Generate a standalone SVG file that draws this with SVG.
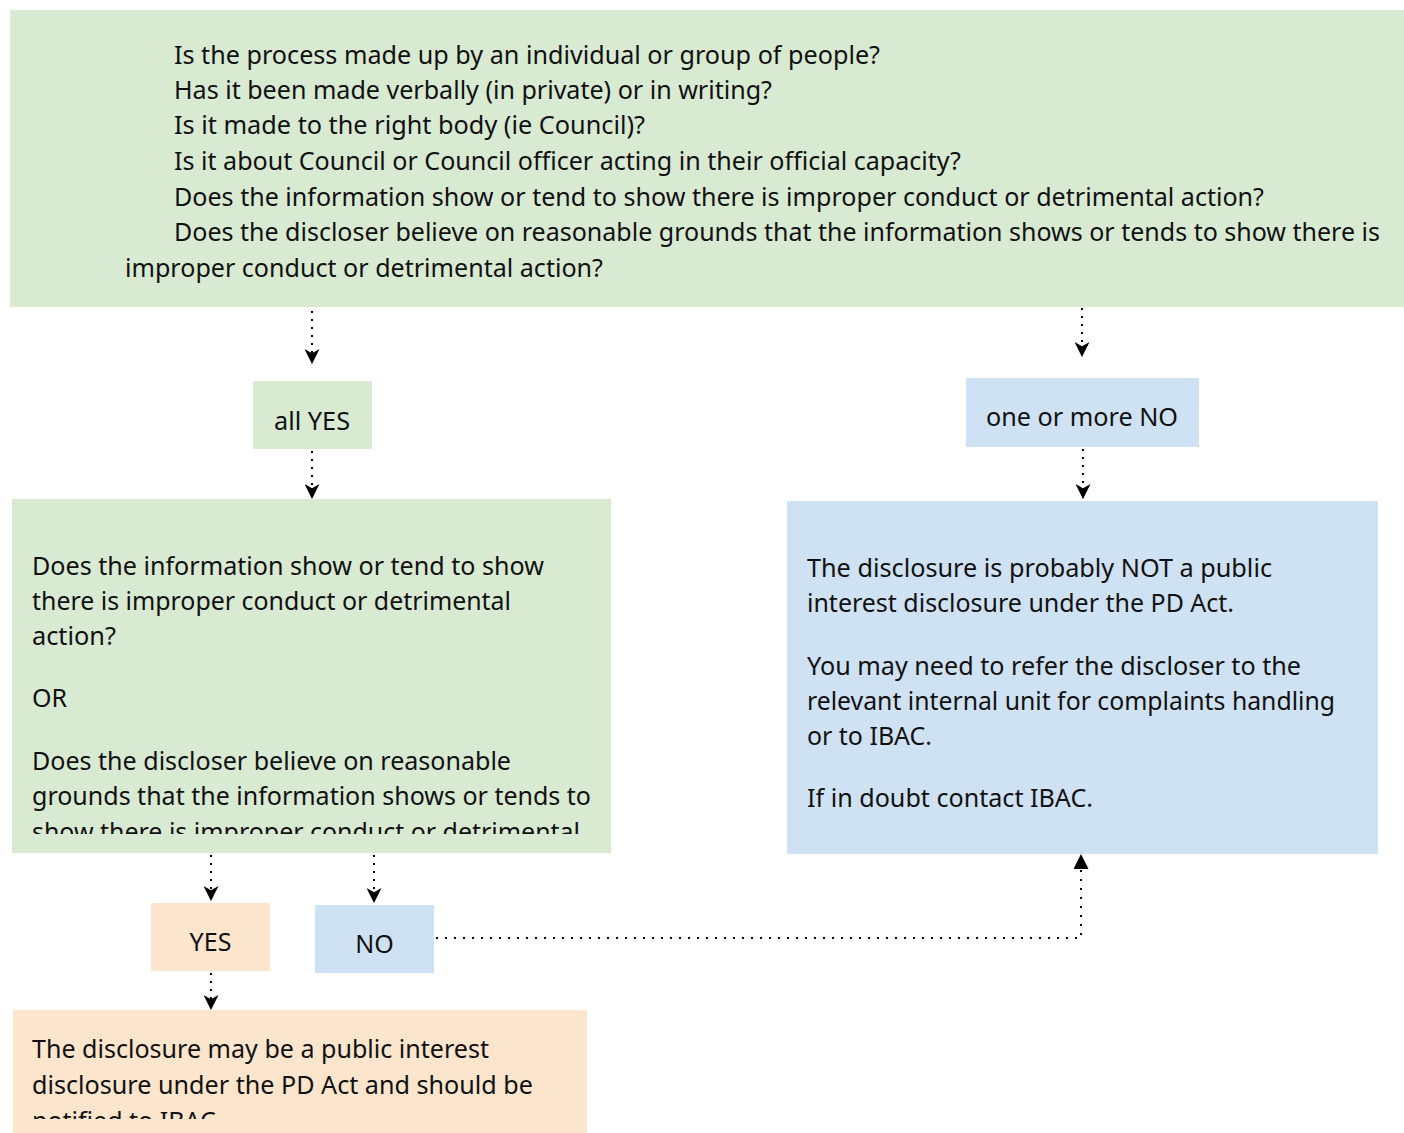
<svg xmlns="http://www.w3.org/2000/svg" width="1404" height="1133" viewBox="0 0 1404 1133">
<style>
.t{font-family:"Noto Sans","Open Sans","Liberation Sans",sans-serif;font-size:25px;fill:#111;}
.c{text-anchor:middle;}
.g{fill:#d9ead3;}
.b{fill:#cfe2f3;}
.o{fill:#fce5cd;}
.e{fill:none;stroke:#000;stroke-width:2;stroke-dasharray:2 6;}
.h{stroke-dasharray:2 7;}
</style>
<defs>
<marker id="ah" viewBox="0 0 14 14" refX="13" refY="7" markerWidth="15" markerHeight="15" markerUnits="userSpaceOnUse" orient="auto">
<path d="M0,0 L14,7 L0,14 L4,7 Z" fill="#000"/>
</marker>
<marker id="tri" viewBox="0 0 14 14" refX="13" refY="7" markerWidth="16" markerHeight="15" markerUnits="userSpaceOnUse" orient="auto">
<path d="M0,0 L14,7 L0,14 Z" fill="#000"/>
</marker>
<clipPath id="clip2"><rect x="12" y="499" width="599" height="335"/></clipPath>
<clipPath id="clip4"><rect x="13" y="1010" width="574" height="109"/></clipPath>
</defs>

<g id="connectors">
<path class="e" d="M312,311 V363" marker-end="url(#ah)"/>
<path class="e" d="M312,451 V498" marker-end="url(#ah)"/>
<path class="e" d="M1082,308 V356" marker-end="url(#ah)"/>
<path class="e" d="M1083,449 V498" marker-end="url(#ah)"/>
<path class="e" d="M211,855 V900" marker-end="url(#ah)"/>
<path class="e" d="M374,855 V902" marker-end="url(#ah)"/>
<path class="e" d="M211,973 V1009" marker-end="url(#ah)"/>
<path class="e h" d="M436,938 H1081 V855" marker-end="url(#tri)"/>
</g>

<g id="node-questions">
<rect class="g" x="10" y="10" width="1394" height="297"/>
<text class="t" x="174" y="64" textLength="706" lengthAdjust="spacingAndGlyphs">Is the process made up by an individual or group of people?</text>
<text class="t" x="174" y="99" textLength="598" lengthAdjust="spacingAndGlyphs">Has it been made verbally (in private) or in writing?</text>
<text class="t" x="174" y="134" textLength="471" lengthAdjust="spacingAndGlyphs">Is it made to the right body (ie Council)?</text>
<text class="t" x="174" y="170" textLength="787" lengthAdjust="spacingAndGlyphs">Is it about Council or Council officer acting in their official capacity?</text>
<text class="t" x="174" y="206" textLength="1090" lengthAdjust="spacingAndGlyphs">Does the information show or tend to show there is improper conduct or detrimental action?</text>
<text class="t" x="174" y="241" textLength="1206" lengthAdjust="spacingAndGlyphs">Does the discloser believe on reasonable grounds that the information shows or tends to show there is</text>
<text class="t" x="125" y="277" textLength="478" lengthAdjust="spacingAndGlyphs">improper conduct or detrimental action?</text>
</g>

<g id="node-all-yes">
<rect class="g" x="253" y="381" width="119" height="68"/>
<text class="t c" x="312" y="430" textLength="76" lengthAdjust="spacingAndGlyphs">all YES</text>
</g>

<g id="node-one-or-more-no">
<rect class="b" x="966" y="378" width="233" height="69"/>
<text class="t c" x="1082" y="426" textLength="192" lengthAdjust="spacingAndGlyphs">one or more NO</text>
</g>

<g id="node-second-question">
<rect class="g" x="12" y="499" width="599" height="354"/>
<g clip-path="url(#clip2)">
<text class="t" x="32" y="575" textLength="512" lengthAdjust="spacingAndGlyphs">Does the information show or tend to show</text>
<text class="t" x="32" y="610" textLength="479" lengthAdjust="spacingAndGlyphs">there is improper conduct or detrimental</text>
<text class="t" x="32" y="645" textLength="84" lengthAdjust="spacingAndGlyphs">action?</text>
<text class="t" x="32" y="707">OR</text>
<text class="t" x="32" y="770" textLength="479" lengthAdjust="spacingAndGlyphs">Does the discloser believe on reasonable</text>
<text class="t" x="32" y="805" textLength="559" lengthAdjust="spacingAndGlyphs">grounds that the information shows or tends to</text>
<text class="t" x="32" y="841" textLength="548" lengthAdjust="spacingAndGlyphs">show there is improper conduct or detrimental</text>
</g>
</g>

<g id="node-not-pid">
<rect class="b" x="787" y="501" width="591" height="353"/>
<text class="t" x="807" y="577" textLength="465" lengthAdjust="spacingAndGlyphs">The disclosure is probably NOT a public</text>
<text class="t" x="807" y="612" textLength="427" lengthAdjust="spacingAndGlyphs">interest disclosure under the PD Act.</text>
<text class="t" x="807" y="675" textLength="494" lengthAdjust="spacingAndGlyphs">You may need to refer the discloser to the</text>
<text class="t" x="807" y="710" textLength="528" lengthAdjust="spacingAndGlyphs">relevant internal unit for complaints handling</text>
<text class="t" x="807" y="745" textLength="125" lengthAdjust="spacingAndGlyphs">or to IBAC.</text>
<text class="t" x="807" y="807" textLength="286" lengthAdjust="spacingAndGlyphs">If in doubt contact IBAC.</text>
</g>

<g id="node-yes">
<rect class="o" x="151" y="903" width="119" height="68"/>
<text class="t c" x="210.5" y="951">YES</text>
</g>

<g id="node-no">
<rect class="b" x="315" y="905" width="119" height="68"/>
<text class="t c" x="374.5" y="953">NO</text>
</g>

<g id="node-may-be-pid">
<rect class="o" x="13" y="1010" width="574" height="123"/>
<g clip-path="url(#clip4)">
<text class="t" x="32" y="1058" textLength="457" lengthAdjust="spacingAndGlyphs">The disclosure may be a public interest</text>
<text class="t" x="32" y="1094" textLength="501" lengthAdjust="spacingAndGlyphs">disclosure under the PD Act and should be</text>
<text class="t" x="32" y="1130">notified to IBAC.</text>
</g>
</g>
</svg>
